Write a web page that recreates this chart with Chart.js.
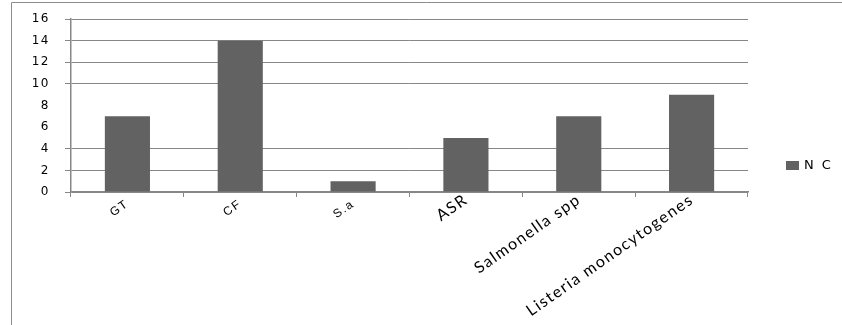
<!DOCTYPE html>
<html>
<head>
<meta charset="utf-8">
<script src="https://cdn.jsdelivr.net/npm/chart.js@4.4.1/dist/chart.umd.min.js"></script>
<style>
  html, body { margin: 0; padding: 0; background: #ffffff; }
  #wrap { position: relative; width: 842px; height: 325px; }
</style>
</head>
<body>
<div id="wrap"><canvas id="chart" width="842" height="325"></canvas></div>
<script>
// Categories (organisms / indicators) and the counts for series "N C"
const categories = ['GT', 'CF', 'S.a', 'ASR', 'Salmonella spp', 'Listeria monocytogenes'];
const ncValues = [7, 14, 1, 5, 7, 9];
const seriesName = 'N C';
const yTicks = [0, 2, 4, 6, 8, 10, 12, 14, 16];
const hiddenGridValues = [6, 8];

const barColor = '#626262';
const gridColor = '#878787';

// Slightly widened lettering for all canvas text
const spacingPlugin = {
  id: 'letterSpacing',
  beforeUpdate(chart) { chart.ctx.letterSpacing = '1.5px'; },
  beforeDraw(chart) { chart.ctx.letterSpacing = '1.5px'; }
};

// Outer frame (top and left edges) and a right-hand legend
const framePlugin = {
  id: 'frameAndLegend',
  beforeDraw(chart) {
    const ctx = chart.ctx;
    ctx.save();
    ctx.strokeStyle = '#8c8c8c';
    ctx.lineWidth = 1;
    ctx.beginPath();
    ctx.moveTo(11.5, 325);
    ctx.lineTo(11.5, 2.5);
    ctx.lineTo(842, 2.5);
    ctx.stroke();
    ctx.restore();
  },
  afterDraw(chart) {
    const ctx = chart.ctx;
    const ds = chart.data.datasets[0];
    ctx.save();
    ctx.fillStyle = ds.backgroundColor;
    ctx.fillRect(786, 161, 13, 9);
    ctx.fillStyle = '#000000';
    ctx.font = '13px "DejaVu Sans"';
    ctx.letterSpacing = '2px';
    ctx.textBaseline = 'middle';
    ctx.textAlign = 'left';
    ctx.fillText(ds.label, 804, 166);
    ctx.restore();
  }
};

new Chart(document.getElementById('chart'), {
  type: 'bar',
  data: {
    labels: categories,
    datasets: [{
      label: seriesName,
      data: ncValues,
      backgroundColor: barColor,
      borderWidth: 0,
      barPercentage: 0.4,
      categoryPercentage: 1.0
    }]
  },
  options: {
    responsive: false,
    animation: false,
    layout: { padding: { left: 11, top: 19, right: 94, bottom: 0 } },
    plugins: {
      legend: { display: false },
      tooltip: { enabled: false }
    },
    scales: {
      x: {
        offset: true,
        border: { display: true, color: gridColor, width: 1.5 },
        grid: {
          offset: true,
          drawOnChartArea: false,
          drawTicks: true,
          tickLength: 5,
          color: gridColor,
          lineWidth: 1
        },
        ticks: {
          autoSkip: false,
          maxRotation: 35,
          minRotation: 35,
          padding: -7,
          color: '#000000',
          // short codes in a smaller face, sitting a little lower
          font: (c) => c.index < 3
            ? { family: '"Liberation Sans"', size: 12, lineHeight: 2.6 }
            : { family: 'Lato', size: 16 }
        },
        afterFit(scale) {
          scale.height = 133;
          scale.paddingLeft = 0;
          scale.paddingRight = 0;
        }
      },
      y: {
        min: 0,
        max: 16,
        afterBuildTicks(scale) { scale.ticks = yTicks.map(v => ({ value: v })); },
        border: { display: true, color: gridColor, width: 1.5 },
        grid: {
          drawTicks: true,
          tickLength: 6,
          lineWidth: 1,
          color: (c) => (c.tick && hiddenGridValues.includes(c.tick.value)) ? 'rgba(0,0,0,0)' : gridColor
        },
        ticks: {
          padding: 15,
          color: '#000000',
          font: { family: '"DejaVu Sans"', size: 12 }
        },
        afterFit(scale) {
          scale.width = 60;
          scale.paddingTop = 0;
          scale.paddingBottom = 0;
        }
      }
    }
  },
  plugins: [spacingPlugin, framePlugin]
});
</script>
</body>
</html>
